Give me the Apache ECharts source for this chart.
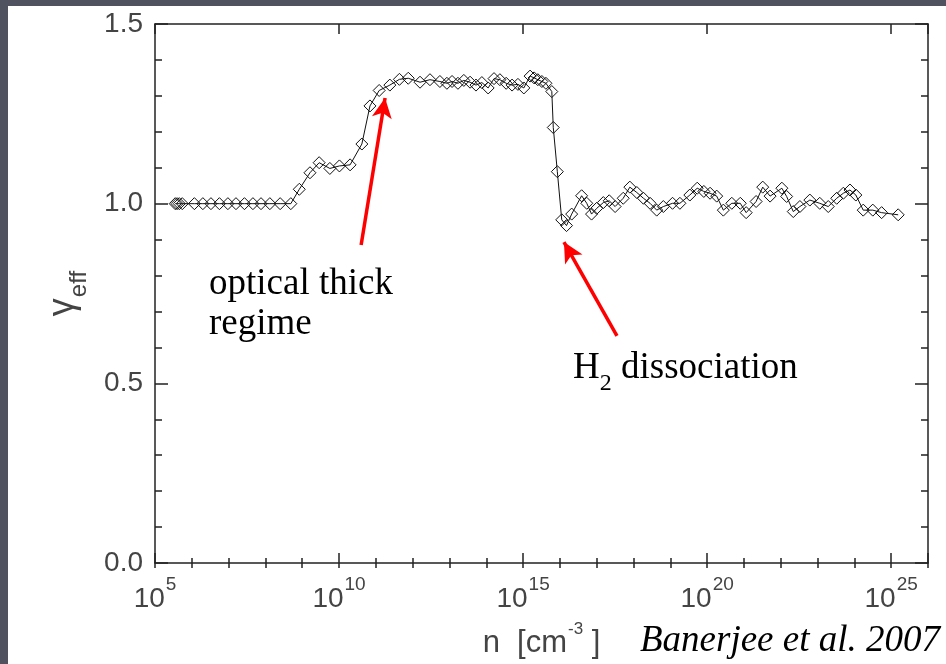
<!DOCTYPE html>
<html>
<head>
<meta charset="utf-8">
<script src="https://cdn.jsdelivr.net/npm/echarts@6/dist/echarts.min.js"></script>
<style>
  html, body { margin: 0; padding: 0; background: #50535f; }
  #chart { width: 946px; height: 664px; }
</style>
</head>
<body>
<div id="chart"></div>
<script>
// Density exponents: log10(n / cm^-3)
const logN = [
  5.55, 5.60, 5.66, 5.74, 6.07, 6.30, 6.52, 6.75, 6.98, 7.20, 7.43, 7.66, 7.88, 8.12, 8.40, 8.69,
  8.92, 9.21, 9.46, 9.75, 10.01, 10.30, 10.62, 10.84, 11.09, 11.38, 11.64, 11.88,
  12.20, 12.47, 12.74, 12.93, 13.07, 13.23, 13.39, 13.56, 13.72, 13.88, 14.05, 14.21,
  14.37, 14.54, 14.70, 14.86, 15.02, 15.19, 15.30, 15.40, 15.51, 15.62, 15.78,
  15.82, 15.93, 16.05, 16.18, 16.32, 16.59, 16.73, 16.86, 17.00, 17.18, 17.34, 17.50,
  17.72, 17.90, 18.09, 18.27, 18.45, 18.63, 18.81, 19.06, 19.26, 19.53, 19.73, 19.91,
  20.08, 20.26, 20.44, 20.67, 20.90, 21.06, 21.33, 21.51, 21.71, 22.03, 22.16, 22.34,
  22.52, 22.79, 23.06, 23.29, 23.52, 23.70, 23.88, 24.04, 24.24, 24.50, 24.74, 25.19
];
// Effective polytropic exponent at each density
const gammaEff = [
  1.000, 1.000, 1.000, 1.000, 1.000, 1.000, 1.000, 1.000, 1.000, 1.000, 1.000, 1.000, 1.000, 1.000, 1.000, 1.000,
  1.040, 1.086, 1.114, 1.098, 1.105, 1.108, 1.166, 1.272, 1.315, 1.330, 1.346, 1.349,
  1.338, 1.345, 1.340, 1.335, 1.340, 1.335, 1.343, 1.338, 1.330, 1.337, 1.322, 1.348,
  1.345, 1.335, 1.330, 1.332, 1.322, 1.355, 1.350, 1.345, 1.340, 1.335, 1.312,
  1.212, 1.089, 0.955, 0.939, 0.971, 1.022, 1.001, 0.971, 0.987, 1.003, 1.008, 0.992,
  1.015, 1.046, 1.031, 1.015, 1.001, 0.982, 0.992, 1.001, 1.001, 1.024, 1.043, 1.034,
  1.029, 1.021, 0.982, 1.001, 1.001, 0.975, 1.006, 1.046, 1.021, 1.043, 1.020, 0.978,
  0.992, 1.010, 1.001, 0.992, 1.015, 1.029, 1.038, 1.024, 0.982, 0.982, 0.975, 0.969
];
// Labelled decades on the density axis
const xLabelExps = [5, 10, 15, 20, 25];
// Annotation arrows: [tail, head] in (log n, gamma)
const arrowThick = [[10.60, 0.885], [11.25, 1.294]];
const arrowH2 = [[17.55, 0.632], [16.11, 0.893]];

const SANS = '"Liberation Sans", Arial, sans-serif';
const SERIF = '"Liberation Serif", "Times New Roman", serif';
const AX = '#222';
const TXT = '#444';

const gridRect = { left: 155, top: 24, right: 18, bottom: 101 };
const xRange = { min: 5, max: 26 };
const yRange = { min: 0, max: 1.5 };

const chart = echarts.init(document.getElementById('chart'), null, { renderer: 'canvas' });

function majorX(pos, withLabels) {
  return Object.assign({
    type: 'value', gridIndex: 0, position: pos, interval: 5,
    axisLine: { show: true, onZero: false, lineStyle: { color: AX, width: 1.5 } },
    axisTick: { show: true, inside: true, length: 10, lineStyle: { color: AX, width: 1.5 } },
    splitLine: { show: false }
  }, xRange, withLabels ? {
    axisLabel: {
      show: true, margin: 12,
      formatter: v => xLabelExps.indexOf(v) >= 0 ? '{b|10}{s|' + v + '}' : '',
      rich: {
        b: { fontFamily: SANS, fontSize: 28, color: TXT, lineHeight: 38, verticalAlign: 'bottom' },
        s: { fontFamily: SANS, fontSize: 19, color: TXT, lineHeight: 19, padding: [0, 0, 19, 1], verticalAlign: 'bottom' }
      }
    },
    name: '{b|n  [cm}{s|-3}{b| ]}',
    nameLocation: 'middle', nameGap: 58,
    nameTextStyle: {
      rich: {
        b: { fontFamily: SANS, fontSize: 31, color: TXT, lineHeight: 38, verticalAlign: 'bottom' },
        s: { fontFamily: SANS, fontSize: 17, color: TXT, lineHeight: 17, padding: [0, 0, 21, 1], verticalAlign: 'bottom' }
      }
    }
  } : { axisLabel: { show: false } });
}
function minorX(pos) {
  return Object.assign({
    type: 'value', gridIndex: 1, position: pos, interval: 1,
    axisLine: { show: false },
    axisTick: { show: true, inside: true, length: 5, lineStyle: { color: AX, width: 1.5 } },
    axisLabel: { show: false }, splitLine: { show: false }
  }, xRange);
}
function majorY(pos, withLabels) {
  return Object.assign({
    type: 'value', gridIndex: 0, position: pos, interval: 0.5,
    axisLine: { show: true, onZero: false, lineStyle: { color: AX, width: 1.5 } },
    axisTick: { show: true, inside: true, length: 13, lineStyle: { color: AX, width: 1.5 } },
    splitLine: { show: false }
  }, yRange, withLabels ? {
    axisLabel: {
      show: true, margin: 12, fontFamily: SANS, fontSize: 28, color: TXT,
      formatter: v => v.toFixed(1)
    },
    name: '{g|γ}{e|eff}',
    nameLocation: 'middle', nameGap: 70, nameRotate: 90,
    nameTextStyle: {
      rich: {
        g: { fontFamily: SANS, fontSize: 36, color: TXT, lineHeight: 40, verticalAlign: 'top' },
        e: { fontFamily: SANS, fontSize: 24, color: TXT, lineHeight: 24, padding: [22, 0, 0, 1], verticalAlign: 'top' }
      }
    }
  } : { axisLabel: { show: false } });
}
function minorY(pos) {
  return Object.assign({
    type: 'value', gridIndex: 1, position: pos, interval: 0.1,
    axisLine: { show: false },
    axisTick: { show: true, inside: true, length: 7, lineStyle: { color: AX, width: 1.5 } },
    axisLabel: { show: false }, splitLine: { show: false }
  }, yRange);
}

function arrow(pts) {
  return [{ coord: pts[0], symbol: 'none' }, { coord: pts[1], symbol: 'arrow', symbolSize: [15, 20] }];
}

const option = {
  animation: false,
  backgroundColor: '#50535f',
  graphic: [
    { type: 'rect', z: -10, shape: { x: 8, y: 6, width: 946, height: 664 }, style: { fill: '#ffffff' } },
    { type: 'text', left: 209, top: 266, style: { text: 'optical thick', font: '37px ' + SERIF, fill: '#000' } },
    { type: 'text', left: 209, top: 306, style: { text: 'regime', font: '37px ' + SERIF, fill: '#000' } },
    {
      type: 'text', left: 573, top: 350,
      style: {
        text: '{t|H}{s|2}{t| dissociation}',
        rich: {
          t: { fontFamily: SERIF, fontSize: 37, fill: '#000', lineHeight: 40, verticalAlign: 'top' },
          s: { fontFamily: SERIF, fontSize: 24, fill: '#000', lineHeight: 24, padding: [22, 0, 0, 0], verticalAlign: 'top' }
        }
      }
    },
    {
      type: 'text', right: 6, top: 623,
      style: { text: 'Banerjee et al. 2007', font: 'italic 37px ' + SERIF, fill: '#000' }
    }
  ],
  grid: [Object.assign({}, gridRect), Object.assign({}, gridRect)],
  xAxis: [majorX('bottom', true), majorX('top', false), minorX('bottom'), minorX('top')],
  yAxis: [majorY('left', true), majorY('right', false), minorY('left'), minorY('right')],
  series: [{
    type: 'line',
    xAxisIndex: 0, yAxisIndex: 0,
    data: logN.map((v, i) => [v, gammaEff[i]]),
    symbol: 'diamond', symbolSize: 12,
    showAllSymbol: true,
    lineStyle: { color: '#111', width: 1 },
    itemStyle: { color: 'rgba(255,255,255,0)', borderColor: '#111', borderWidth: 1 },
    markLine: {
      silent: true, animation: false,
      label: { show: false },
      lineStyle: { color: '#ff0000', width: 3.5, type: 'solid' },
      data: [arrow(arrowThick), arrow(arrowH2)]
    },
    z: 5
  }]
};
chart.setOption(option);
</script>
</body>
</html>
